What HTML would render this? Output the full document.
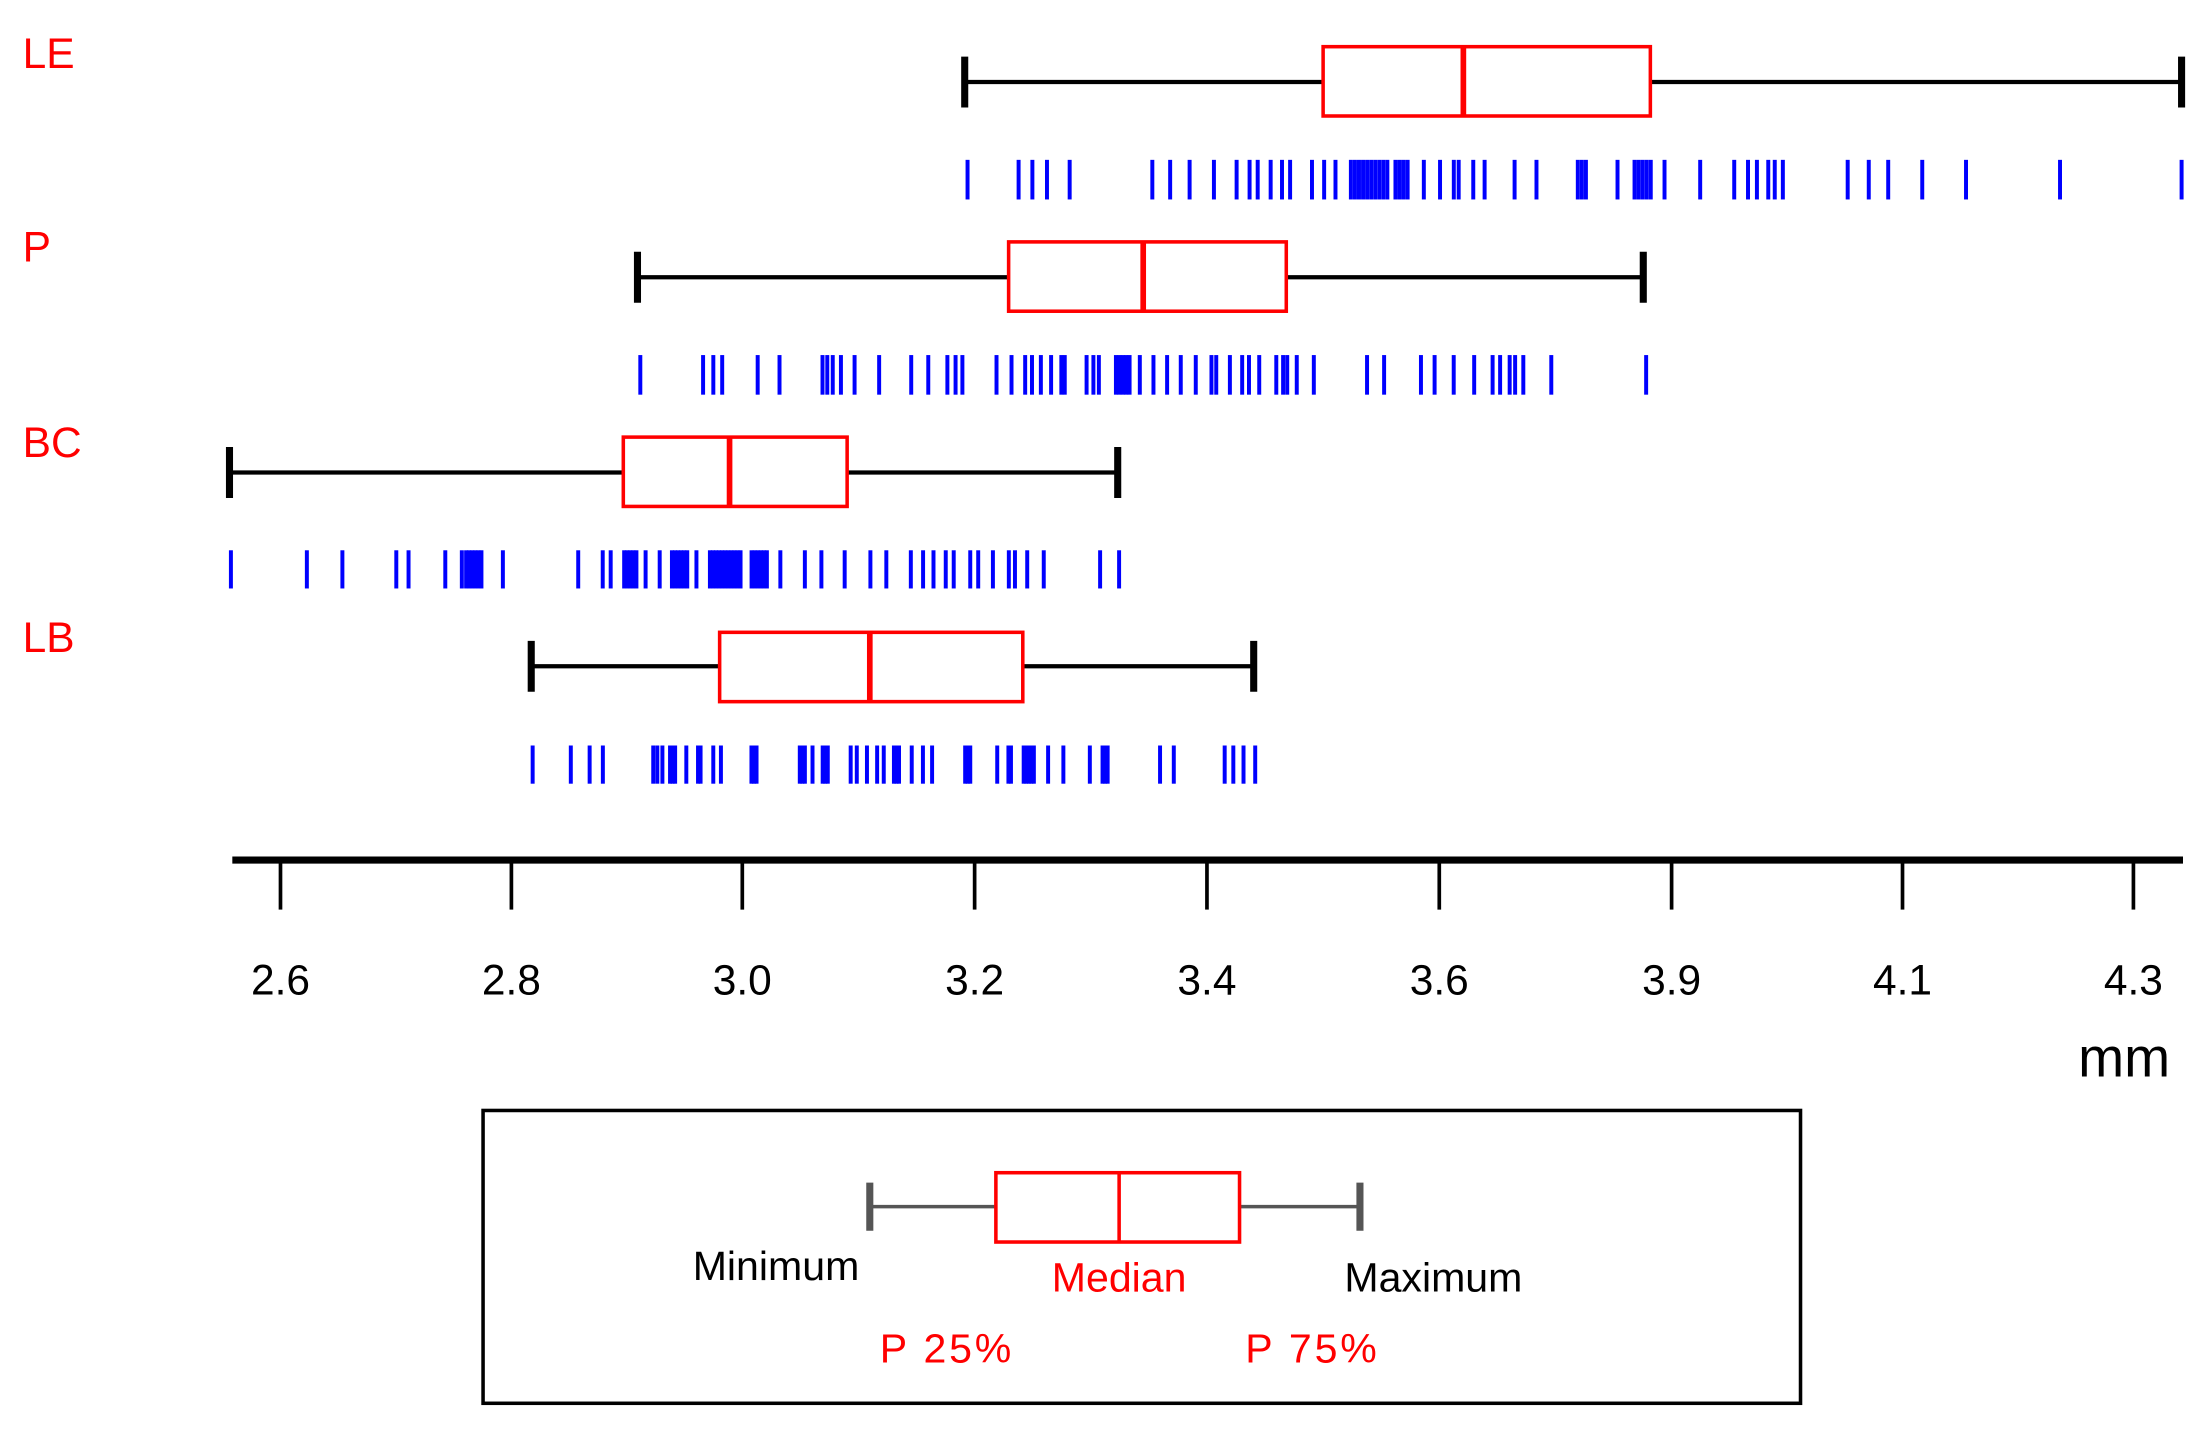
<!DOCTYPE html>
<html><head><meta charset="utf-8"><style>
html,body{margin:0;padding:0;background:#fff;width:2200px;height:1433px;overflow:hidden}
svg{display:block}
text{font-family:"Liberation Sans",Arial,sans-serif}
</style></head><body>
<svg id="s" width="2200" height="1433" viewBox="0 0 1553 1013" preserveAspectRatio="none">
<rect width="1553" height="1013" fill="#fff"/>
<g fill="#ff0000" font-size="30">
<text x="16" y="48">LE</text><text x="16" y="185">P</text><text x="16" y="323">BC</text><text x="16" y="461">LB</text>
</g>
<g id="boxes"></g>
<g id="rugs" stroke="#0000ff" stroke-width="2.8"></g>
<line x1="164" y1="608" x2="1541" y2="608" stroke="#000" stroke-width="5"/>
<g stroke="#000" stroke-width="2.6" id="ticks"></g>
<g font-size="30" text-anchor="middle" fill="#000" id="tl"></g>
<text x="1467" y="761" font-size="39" fill="#000">mm</text>
<rect x="341" y="785" width="930" height="207" fill="none" stroke="#000" stroke-width="2.5"/>
<line x1="614" y1="853" x2="703" y2="853" stroke="#555" stroke-width="2.5"/>
<line x1="875" y1="853" x2="960" y2="853" stroke="#555" stroke-width="2.5"/>
<line x1="614" y1="836" x2="614" y2="870" stroke="#555" stroke-width="5"/>
<line x1="960" y1="836" x2="960" y2="870" stroke="#555" stroke-width="5"/>
<rect x="703" y="829" width="172" height="49" fill="none" stroke="#ff0000" stroke-width="2.5"/>
<line x1="790" y1="829" x2="790" y2="878" stroke="#ff0000" stroke-width="2.5"/>
<text x="489" y="905" font-size="29" fill="#000">Minimum</text>
<text x="790" y="913" font-size="29" fill="#ff0000" text-anchor="middle">Median</text>
<text x="949" y="913" font-size="29" fill="#000">Maximum</text>
<text x="621" y="963" font-size="29" fill="#ff0000" letter-spacing="2">P 25%</text>
<text x="879" y="963" font-size="29" fill="#ff0000" letter-spacing="2">P 75%</text>
</svg>
<script>
var NS="http://www.w3.org/2000/svg";
function el(p,t,a){var e=document.createElementNS(NS,t);for(var k in a)e.setAttribute(k,a[k]);document.getElementById(p).appendChild(e);return e;}
var B=[[681,1540,58,934,1165,33,82,1033],[450,1160,196,712,908,171,220,807],[162,789,334,440,598,309,358,515],[375,885,471,508,722,447,496,614]];
B.forEach(function(b){
 el("boxes","line",{x1:b[0],y1:b[2],x2:b[3],y2:b[2],stroke:"#000","stroke-width":3});
 el("boxes","line",{x1:b[4],y1:b[2],x2:b[1],y2:b[2],stroke:"#000","stroke-width":3});
 el("boxes","line",{x1:b[0],y1:b[2]-18,x2:b[0],y2:b[2]+18,stroke:"#000","stroke-width":5});
 el("boxes","line",{x1:b[1],y1:b[2]-18,x2:b[1],y2:b[2]+18,stroke:"#000","stroke-width":5});
 el("boxes","rect",{x:b[3],y:b[5],width:b[4]-b[3],height:b[6]-b[5],fill:"none",stroke:"#ff0000","stroke-width":2.5});
 el("boxes","line",{x1:b[7],y1:b[5],x2:b[7],y2:b[6],stroke:"#ff0000","stroke-width":4});
});
function expand(list){var o=[];list.forEach(function(v){if(Array.isArray(v)){for(var x=v[0];x<=v[1];x+=5)o.push(x);}else o.push(v);});return o;}
var R=[
 {z0:22,d0:683,s:0.5721,y1:113,y2:141,m:[22,85,102,120,148,250,272,296,326,354,370,380,396,410,420,447,462,476,[495,540],[550,568],585,605,622,628,646,660,697,724,[775,785],824,[845,865],882,926,968,985,996,1010,1018,1028,1108,1134,1158,1200,1254,1370,1520]},
 {z0:48,d0:452,s:0.4817,y1:251,y2:279,m:[48,140,155,168,220,252,315,322,330,342,362,398,445,470,498,510,520,570,592,612,622,635,650,665,670,702,712,720,[745,765],780,800,820,840,862,885,892,912,930,940,955,980,990,996,1010,1035,1113,1138,1192,1212,1240,1270,1297,1308,1322,1330,1342,1383,1522]},
 {z0:48,d0:163,s:0.4324,y1:389,y2:416,m:[48,172,230,318,338,398,425,[432,458],492,615,655,668,[690,710],725,748,[768,795],808,[830,880],[898,925],945,985,1012,1050,1092,1118,1158,1178,1195,1215,1228,1255,1268,1292,1318,1328,1348,1375,1467,1498]},
 {z0:55,d0:376,s:0.3592,y1:527,y2:554,m:[55,130,167,193,292,300,310,[325,335],357,[380,388],410,425,[485,495],[580,590],605,[625,635],680,692,712,732,745,[765,775],800,822,840,[905,915],968,[990,998],[1020,1040],1068,1098,1150,[1175,1185],1288,1315,1415,1432,1452,1475]}
];
R.forEach(function(r){expand(r.m).forEach(function(z){var x=r.d0+(z-r.z0)*r.s;el("rugs","line",{x1:x,y1:r.y1,x2:x,y2:r.y2});});});
var T=[[198,"2.6"],[361,"2.8"],[524,"3.0"],[688,"3.2"],[852,"3.4"],[1016,"3.6"],[1180,"3.9"],[1343,"4.1"],[1506,"4.3"]];
T.forEach(function(t){el("ticks","line",{x1:t[0],y1:608,x2:t[0],y2:643});var e=el("tl","text",{x:t[0],y:703});e.textContent=t[1];});
</script>
</body></html>
